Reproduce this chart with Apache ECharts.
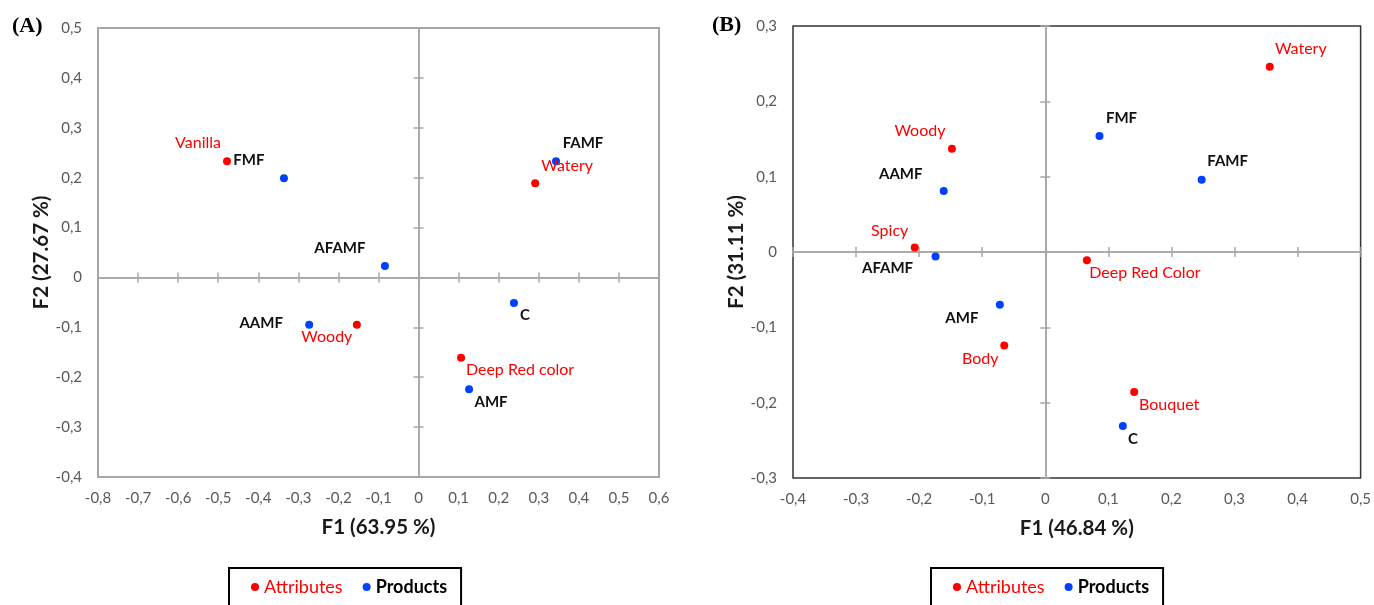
<!DOCTYPE html>
<html>
<head>
<meta charset="utf-8">
<script src="https://cdn.jsdelivr.net/npm/echarts@6/dist/echarts.min.js"></script>
<style>
  html, body { margin: 0; padding: 0; background: #ffffff; }
  #chart { width: 1374px; height: 605px; }
</style>
</head>
<body>
<div id="chart"></div>
<script>
// ---------- DATA ----------
// Panel A
const A_attrNames = ['Vanilla', 'Watery', 'Woody', 'Deep Red color'];
const A_attrF1 = [-0.478, 0.291, -0.154, 0.106];
const A_attrF2 = [0.233, 0.189, -0.095, -0.161];
const A_prodNames = ['FMF', 'FAMF', 'AFAMF', 'AAMF', 'C', 'AMF'];
const A_prodF1 = [-0.336, 0.343, -0.084, -0.273, 0.238, 0.126];
const A_prodF2 = [0.199, 0.233, 0.023, -0.095, -0.051, -0.224];
const A_xName = 'F1 (63.95 %)';
const A_yName = 'F2 (27.67 %)';
const A_xRange = [-0.8, 0.6];
const A_yRange = [-0.4, 0.5];

// Panel B
const B_attrNames = ['Watery', 'Woody', 'Spicy', 'Deep Red Color', 'Body', 'Bouquet'];
const B_attrF1 = [0.356, -0.148, -0.207, 0.066, -0.065, 0.141];
const B_attrF2 = [0.246, 0.137, 0.006, -0.011, -0.124, -0.186];
const B_prodNames = ['FMF', 'FAMF', 'AAMF', 'AFAMF', 'AMF', 'C'];
const B_prodF1 = [0.086, 0.248, -0.161, -0.174, -0.072, 0.123];
const B_prodF2 = [0.154, 0.096, 0.081, -0.006, -0.070, -0.231];
const B_xName = 'F1 (46.84 %)';
const B_yName = 'F2 (31.11 %)';
const B_xRange = [-0.4, 0.5];
const B_yRange = [-0.3, 0.3];

const seriesNames = ['Attributes', 'Products'];
const panelTitles = ['(A)', '(B)'];

// ---------- STYLE (label offsets from point centre, px) ----------
const A_labelOffset = {
  'Vanilla': [-29, -18], 'Watery': [32, -17], 'Woody': [-30, 12], 'Deep Red color': [59, 12],
  'FMF': [-35, -18], 'FAMF': [27, -18], 'AFAMF': [-45, -18], 'AAMF': [-48, -2], 'C': [11, 12], 'AMF': [22, 13]
};
const B_labelOffset = {
  'Watery': [31, -18], 'Woody': [-32, -18], 'Spicy': [-25, -17], 'Deep Red Color': [58, 13], 'Body': [-24, 13], 'Bouquet': [35, 13],
  'FMF': [22, -18], 'FAMF': [26, -19], 'AAMF': [-43, -17], 'AFAMF': [-48, 12], 'AMF': [-38, 13], 'C': [10, 13]
};

const RED = '#ff0000';
const BLUE = '#0040ff';
const FONT = 'Lato, "Open Sans", sans-serif';

function fmt(v) {
  let s = (Math.round(v * 10) / 10).toString();
  if (s === '-0') s = '0';
  return s.replace('.', ',');
}

function buildData(names, xs, ys, offsets) {
  return names.map((n, i) => ({
    name: n,
    value: [xs[i], ys[i]],
    label: { offset: offsets[n] || [0, 0] }
  }));
}

function axesFor(dim, gridIndex, range, name, nameGap, globalOther) {
  const common = {
    type: 'value', gridIndex: gridIndex, min: range[0], max: range[1], interval: 0.1,
    splitLine: { show: false }
  };
  const isX = dim === 'x';
  const labelAxis = Object.assign({}, common, {
    position: isX ? 'bottom' : 'left',
    name: name, nameLocation: 'middle', nameGap: nameGap,
    nameTextStyle: { fontFamily: FONT, fontSize: 20.5, fontWeight: 'bold', color: '#1a1a1a' },
    axisLine: { show: false, onZero: false },
    axisTick: { show: false },
    axisLabel: { show: true, formatter: fmt, fontFamily: FONT, fontSize: 15, color: '#595959', margin: isX ? 14 : 16 }
  });
  const zeroStyle = { color: '#a6a6a6', width: 1.5 };
  const zeroA = Object.assign({}, common, {
    position: isX ? 'bottom' : 'left',
    axisLine: { show: true, onZero: true, onZeroAxisIndex: globalOther, lineStyle: zeroStyle },
    axisTick: { show: true, length: 5, inside: false, lineStyle: zeroStyle },
    axisLabel: { show: false }
  });
  const zeroB = Object.assign({}, common, {
    position: isX ? 'top' : 'right',
    axisLine: { show: true, onZero: true, onZeroAxisIndex: globalOther, lineStyle: zeroStyle },
    axisTick: { show: true, length: 5, inside: false, lineStyle: zeroStyle },
    axisLabel: { show: false }
  });
  return [labelAxis, zeroA, zeroB];
}

const xAxes = [].concat(
  axesFor('x', 0, A_xRange, A_xName, 40, 0),
  axesFor('x', 1, B_xRange, B_xName, 40, 3)
);
const yAxes = [].concat(
  axesFor('y', 0, A_yRange, A_yName, 46, 0),
  axesFor('y', 1, B_yRange, B_yName, 46, 3)
);

function scatterSeries(name, xi, yi, data, color) {
  const isProd = name === 'Products';
  return {
    name: name, type: 'scatter', xAxisIndex: xi, yAxisIndex: yi,
    symbol: 'circle', symbolSize: 8,
    itemStyle: { color: color, opacity: 1 },
    label: {
      show: true, position: 'inside', formatter: '{b}',
      fontFamily: FONT, fontSize: isProd ? 15 : 16,
      fontWeight: isProd ? 'bold' : 'normal',
      color: isProd ? '#111111' : RED
    },
    emphasis: { disabled: true },
    data: data
  };
}

const legendData = [
  { name: seriesNames[0], textStyle: { color: RED, fontWeight: 'normal' } },
  { name: seriesNames[1], textStyle: { color: '#000000', fontWeight: 'bold' } }
];
function legendAt(left) {
  return {
    left: left, top: 568, orient: 'horizontal',
    data: legendData, icon: 'circle', itemWidth: 8, itemHeight: 8, itemGap: 20,
    textStyle: { fontFamily: FONT, fontSize: 18 },
    borderColor: '#000000', borderWidth: 2, borderRadius: 0,
    padding: [10, 14, 20, 22], selectedMode: false
  };
}

const option = {
  backgroundColor: '#ffffff',
  animation: false,
  grid: [
    { left: 98, top: 28, width: 561, height: 449, show: true, borderColor: '#a6a6a6', borderWidth: 2, backgroundColor: 'transparent' },
    { left: 793, top: 26, width: 569, height: 452, show: true, borderColor: '#333333', borderWidth: 1.5, backgroundColor: 'transparent' }
  ],
  xAxis: xAxes,
  yAxis: yAxes,
  legend: [legendAt(229), legendAt(931)],
  graphic: [
    { type: 'text', left: 12, top: 15, style: { text: panelTitles[0], font: 'bold 22px "Liberation Serif", "DejaVu Serif", serif', fill: '#000' } },
    { type: 'text', left: 712, top: 14, style: { text: panelTitles[1], font: 'bold 22px "Liberation Serif", "DejaVu Serif", serif', fill: '#000' } }
  ],
  series: [
    scatterSeries(seriesNames[0], 0, 0, buildData(A_attrNames, A_attrF1, A_attrF2, A_labelOffset), RED),
    scatterSeries(seriesNames[1], 0, 0, buildData(A_prodNames, A_prodF1, A_prodF2, A_labelOffset), BLUE),
    scatterSeries(seriesNames[0], 3, 3, buildData(B_attrNames, B_attrF1, B_attrF2, B_labelOffset), RED),
    scatterSeries(seriesNames[1], 3, 3, buildData(B_prodNames, B_prodF1, B_prodF2, B_labelOffset), BLUE)
  ]
};

const chart = echarts.init(document.getElementById('chart'), null, { renderer: 'canvas' });
chart.setOption(option);
</script>
</body>
</html>
